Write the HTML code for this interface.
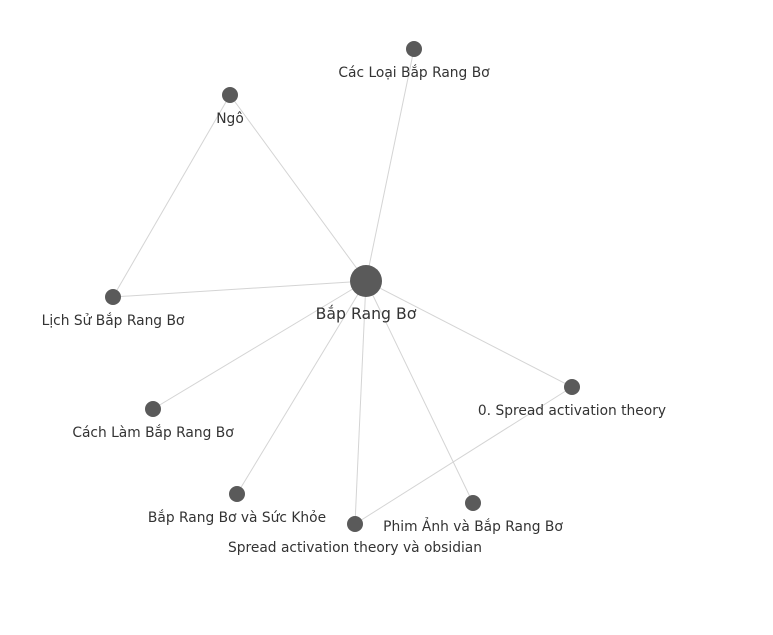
<!DOCTYPE html>
<html><head><meta charset="utf-8"><style>
html,body{margin:0;padding:0;background:#fff;}
svg{display:block;}
text{font-family:"DejaVu Sans","Liberation Sans",sans-serif;fill:#333;}
</style></head><body>
<svg id="chart" width="773" height="635"></svg>
<script>
const nodeNames = ["Bắp Rang Bơ","Các Loại Bắp Rang Bơ","Ngô","Lịch Sử Bắp Rang Bơ","Cách Làm Bắp Rang Bơ","Bắp Rang Bơ và Sức Khỏe","Spread activation theory và obsidian","Phim Ảnh và Bắp Rang Bơ","0. Spread activation theory"];
const nodeX = [366,414,230,113,153,237,355,473,572];
const nodeY = [281,49,95,297,409,494,524,503,387];
const nodeSize = [16,8,8,8,8,8,8,8,8];
const edgeSource = [0,0,0,0,0,0,0,0,2,8];
const edgeTarget = [1,2,3,4,5,6,7,8,3,6];
const NS="http://www.w3.org/2000/svg";
const svg=document.getElementById('chart');
const eg=document.createElementNS(NS,'g');


svg.appendChild(eg);
for(let i=0;i<edgeSource.length;i++){
  const l=document.createElementNS(NS,'line');
  const a=edgeSource[i],b=edgeTarget[i];
  l.setAttribute('x1',nodeX[a]);l.setAttribute('y1',nodeY[a]);
  l.setAttribute('x2',nodeX[b]);l.setAttribute('y2',nodeY[b]);
  l.setAttribute('stroke','#d4d4d4');l.setAttribute('stroke-width','1');
  
  
  eg.appendChild(l);
}
for(let i=0;i<nodeNames.length;i++){
  const c=document.createElementNS(NS,'circle');
  c.setAttribute('cx',nodeX[i]);c.setAttribute('cy',nodeY[i]);c.setAttribute('r',nodeSize[i]);
  c.setAttribute('fill','#5a5a5a');
  
  
  svg.appendChild(c);
  const t=document.createElementNS(NS,'text');
  t.setAttribute('x',nodeX[i]);
  t.setAttribute('y',nodeY[i]+nodeSize[i]+(i===0?22:20));
  t.setAttribute('text-anchor','middle');
  t.setAttribute('font-size',i===0?'15.7':'13.8');
  t.textContent=nodeNames[i];
  
  
  svg.appendChild(t);
}
</script>
</body></html>
